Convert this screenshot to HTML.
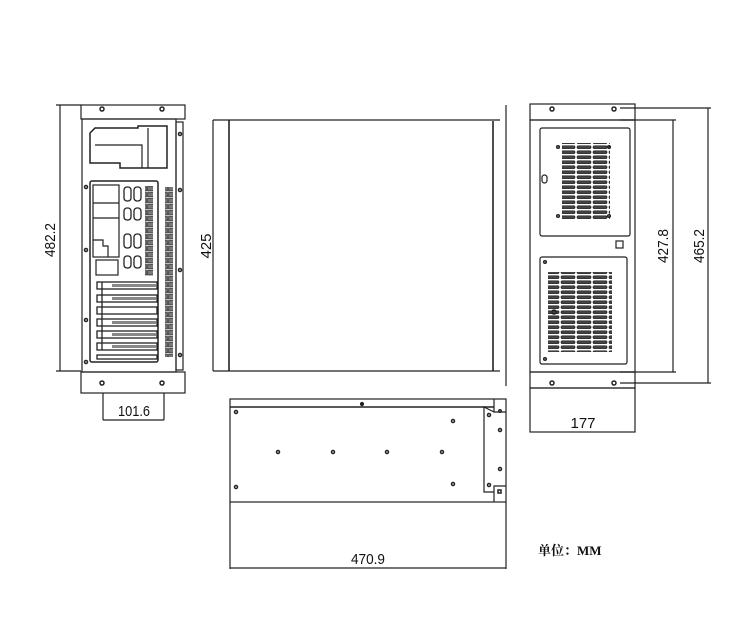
<!DOCTYPE html>
<html><head><meta charset="utf-8"><style>
html,body{margin:0;padding:0;background:#fff;}
svg{display:block}
text{font-family:"Liberation Sans Narrow","Liberation Sans",sans-serif;fill:#111}
</style></head><body>
<svg width="750" height="621" viewBox="0 0 750 621" xmlns="http://www.w3.org/2000/svg">
<defs>
<pattern id="vent" x="0" y="0" width="16" height="5" patternUnits="userSpaceOnUse">
<rect x="1" y="0.8" width="14" height="2.8" rx="1.2" fill="#444" stroke="#111" stroke-width="0.6"/>
</pattern>
<pattern id="slots" x="0" y="0" width="7" height="6" patternUnits="userSpaceOnUse">
<rect x="0.5" y="0.5" width="6" height="4.5" fill="#777" stroke="#111" stroke-width="0.6"/>
</pattern>
</defs>
<g fill="none" stroke="#222" stroke-width="1.2">
<!-- LEFT VIEW -->
<line x1="60" y1="105" x2="60" y2="371"/>
<line x1="56" y1="105" x2="81" y2="105"/>
<line x1="56" y1="371" x2="81" y2="371"/>
<rect x="81" y="105" width="104" height="14"/>
<rect x="81" y="372" width="104" height="21"/>
<rect x="82" y="119" width="94" height="253"/>
<rect x="176" y="122" width="7" height="248"/>
<line x1="103" y1="393" x2="103" y2="420"/>
<line x1="164" y1="393" x2="164" y2="420"/>
<line x1="103" y1="420" x2="164" y2="420"/>
<!-- PSU -->
<path d="M90 133 L95 128 L138 128 L138 126 L167 126 L167 168 L120 168 L120 163 L90 163 Z" stroke-width="1.5"/>
<path d="M95 145 L142 145 L142 168" />
<line x1="148" y1="128" x2="148" y2="168"/>
<!-- I/O area -->
<rect x="90" y="181" width="68" height="181" rx="2" stroke-width="1.5"/>
<rect x="93" y="185" width="26" height="72"/>
<line x1="93" y1="203" x2="119" y2="203"/>
<line x1="93" y1="218" x2="119" y2="218"/>
<path d="M93 240 L103 240 L103 246 L108 246 L108 257" />
<rect x="96" y="260" width="22" height="15"/>
<g stroke-width="1.3">
<rect x="124" y="187" width="7" height="14" rx="3"/><rect x="134" y="187" width="7" height="14" rx="3"/>
<rect x="124" y="208" width="7" height="12" rx="3"/><rect x="134" y="208" width="7" height="12" rx="3"/>
<rect x="124" y="234" width="7" height="14" rx="3"/><rect x="134" y="234" width="7" height="14" rx="3"/>
<rect x="124" y="256" width="7" height="12" rx="3"/><rect x="134" y="256" width="7" height="12" rx="3"/>
</g>
<rect x="145" y="186" width="8" height="90" fill="url(#slots)" stroke="none"/>
<rect x="165" y="187" width="8" height="170" fill="url(#slots)" stroke="none"/>
<g stroke-width="1.3">
<rect x="97" y="282" width="60" height="7"/><rect x="97" y="295" width="60" height="7"/>
<rect x="97" y="307" width="60" height="7"/><rect x="97" y="319" width="60" height="7"/>
<rect x="97" y="331" width="60" height="7"/><rect x="97" y="343" width="60" height="7"/>
<rect x="97" y="355" width="60" height="4"/>
<line x1="102" y1="282" x2="102" y2="350"/>
</g>
<g fill="#888" stroke="none">
<rect x="112" y="284" width="44" height="3"/><rect x="112" y="297" width="44" height="3"/>
<rect x="112" y="321" width="44" height="3"/><rect x="112" y="333" width="44" height="3"/><rect x="112" y="345" width="44" height="3"/>
</g>
<g stroke-width="1.5">
<circle cx="102" cy="109" r="2"/><circle cx="162" cy="109" r="2"/>
<circle cx="102" cy="383" r="2"/><circle cx="162" cy="383" r="2"/>
<circle cx="180" cy="134" r="1.5"/><circle cx="180" cy="190" r="1.5"/><circle cx="180" cy="270" r="1.5"/><circle cx="180" cy="355" r="1.5"/>
<circle cx="86" cy="187" r="1.5"/><circle cx="86" cy="250" r="1.5"/><circle cx="86" cy="320" r="1.5"/><circle cx="86" cy="362" r="1.5"/>
</g>
<!-- MIDDLE TOP VIEW -->
<line x1="213" y1="120" x2="500" y2="120"/>
<line x1="213" y1="371" x2="500" y2="371"/>
<line x1="213" y1="120" x2="213" y2="371"/>
<line x1="229" y1="120" x2="229" y2="371" stroke-width="1.6"/>
<line x1="493" y1="121" x2="493" y2="371" stroke-width="1.6"/>
<line x1="506" y1="105" x2="506" y2="386"/>
<!-- RIGHT VIEW -->
<rect x="530" y="104" width="105" height="16"/>
<rect x="530" y="120" width="105" height="252"/>
<rect x="530" y="372" width="105" height="16"/>
<rect x="530" y="388" width="105" height="44"/>
<rect x="540" y="128" width="90" height="108" rx="2"/>
<rect x="540" y="257" width="87" height="107" rx="2"/>
<rect x="562" y="143" width="48" height="77" fill="url(#vent)" stroke="none"/>
<rect x="548" y="272" width="64" height="80" fill="url(#vent)" stroke="none"/>
<rect x="542" y="175" width="5" height="8" rx="2.5"/>
<rect x="616" y="241" width="7" height="7"/>
<line x1="620" y1="108" x2="711" y2="108"/>
<line x1="620" y1="383" x2="711" y2="383"/>
<line x1="708" y1="108" x2="708" y2="383"/>
<line x1="620" y1="120" x2="676" y2="120"/>
<line x1="620" y1="372" x2="676" y2="372"/>
<line x1="673" y1="120" x2="673" y2="372"/>
<g stroke-width="1.5">
<circle cx="552" cy="109" r="2"/><circle cx="614" cy="109" r="2"/>
<circle cx="552" cy="383" r="2"/><circle cx="614" cy="383" r="2"/>
<circle cx="558" cy="147" r="1.3"/><circle cx="609" cy="147" r="1.3"/>
<circle cx="558" cy="216" r="1.3"/><circle cx="609" cy="216" r="1.3"/>
<circle cx="545" cy="262" r="1.3"/><circle cx="545" cy="359" r="1.3"/><circle cx="554" cy="312" r="2"/>
</g>
<!-- BOTTOM SIDE VIEW -->
<rect x="230" y="399" width="276" height="103"/>
<line x1="230" y1="407" x2="494" y2="407" stroke-width="1.6"/>
<path d="M494 399 L494 412 L506 412"/>
<path d="M494 502 L494 486 L506 486"/>
<path d="M494 412 L484 407 L484 492 L494 492"/>
<line x1="230" y1="502" x2="230" y2="569"/>
<line x1="506" y1="502" x2="506" y2="569"/>
<line x1="230" y1="568" x2="506" y2="568"/>
<g stroke-width="1.5">
<circle cx="236" cy="412" r="1.5"/><circle cx="236" cy="487" r="1.5"/>
<circle cx="278" cy="452" r="1.5"/><circle cx="333" cy="452" r="1.5"/><circle cx="387" cy="452" r="1.5"/><circle cx="442" cy="452" r="1.5"/>
<circle cx="453" cy="421" r="1.5"/><circle cx="453" cy="484" r="1.5"/>
<circle cx="489" cy="415" r="1.5"/><circle cx="489" cy="485" r="1.5"/>
<circle cx="500" cy="430" r="1.5"/><circle cx="500" cy="469" r="1.5"/>
<circle cx="500" cy="411" r="1.2"/><rect x="498" y="490" width="3" height="3"/>
</g>
<circle cx="362" cy="404" r="1.5" fill="#222"/>
</g>
<!-- LABELS -->
<text x="0" y="0" font-size="15" transform="translate(55 240) rotate(-90)" text-anchor="middle" textLength="34" lengthAdjust="spacingAndGlyphs">482.2</text>
<text x="0" y="0" font-size="15" transform="translate(211 246) rotate(-90)" text-anchor="middle">425</text>
<text x="0" y="0" font-size="15" transform="translate(668 246) rotate(-90)" text-anchor="middle" textLength="34" lengthAdjust="spacingAndGlyphs">427.8</text>
<text x="0" y="0" font-size="15" transform="translate(704 246) rotate(-90)" text-anchor="middle" textLength="34" lengthAdjust="spacingAndGlyphs">465.2</text>
<text x="134" y="416" font-size="15" text-anchor="middle" textLength="32" lengthAdjust="spacingAndGlyphs">101.6</text>
<text x="583" y="428" font-size="15" text-anchor="middle">177</text>
<text x="368" y="564" font-size="15" text-anchor="middle" textLength="34" lengthAdjust="spacingAndGlyphs">470.9</text>
<text x="538" y="555" font-size="13" font-weight="bold" style='font-family:"Liberation Serif","Noto Serif CJK SC",serif'>单位：MM</text>
</svg>
</body></html>
